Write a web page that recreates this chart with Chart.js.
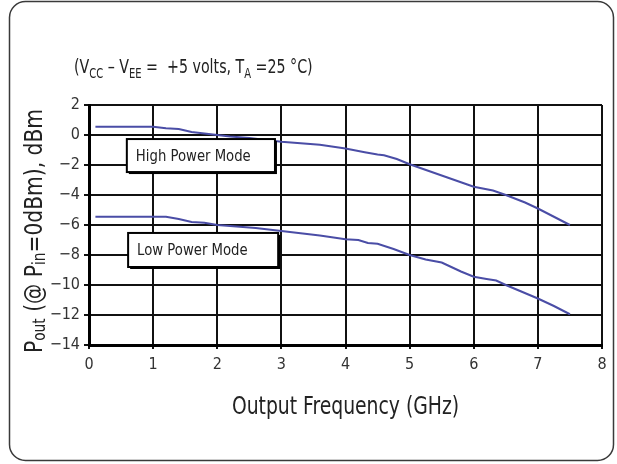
<!DOCTYPE html>
<html>
<head>
<meta charset="utf-8">
<script src="https://cdn.jsdelivr.net/npm/chart.js@4.4.0/dist/chart.umd.min.js"></script>
<style>
body{margin:0;background:#fff}
canvas{display:block}
</style>
</head>
<body>
<canvas id="line-chart" width="617" height="464"></canvas>
<script>
var fonte = "'Liberation Sans Narrow', 'DejaVu Sans Condensed', 'Roboto Condensed', sans-serif";
var cor = "#4a4da6";

// tick labels
var xTicks = [0, 1, 2, 3, 4, 5, 6, 7, 8];
var yTicks = [2, 0, -2, -4, -6, -8, -10, -12, -14];

// High Power Mode curve (GHz, dBm)
var highFreq = [0.1, 0.5, 1.0, 1.2, 1.4, 1.6, 1.8, 2.0, 2.2, 2.5, 2.8, 3.0, 3.3, 3.6, 4.0, 4.3, 4.5, 4.6, 4.8, 5.0, 5.3, 5.6, 5.9, 6.0, 6.3, 6.5, 6.8, 7.0, 7.25, 7.5];
var highPout = [0.55, 0.55, 0.55, 0.45, 0.4, 0.2, 0.1, 0.0, -0.1, -0.2, -0.35, -0.45, -0.55, -0.65, -0.9, -1.15, -1.3, -1.35, -1.6, -1.95, -2.4, -2.85, -3.3, -3.45, -3.7, -4.0, -4.5, -4.9, -5.45, -6.0];

// Low Power Mode curve
var lowFreq = [0.1, 0.5, 1.0, 1.2, 1.4, 1.6, 1.8, 2.0, 2.3, 2.6, 3.0, 3.3, 3.6, 4.0, 4.2, 4.35, 4.5, 4.75, 5.0, 5.25, 5.5, 5.65, 5.8, 6.0, 6.2, 6.35, 6.5, 6.75, 7.0, 7.25, 7.5];
var lowPout = [-5.45, -5.45, -5.45, -5.45, -5.6, -5.8, -5.85, -6.0, -6.1, -6.2, -6.4, -6.55, -6.7, -6.95, -7.0, -7.2, -7.25, -7.6, -8.0, -8.3, -8.5, -8.8, -9.1, -9.45, -9.6, -9.7, -10.0, -10.45, -10.9, -11.4, -11.95];

var modeLabels = ["High Power Mode", "Low Power Mode"];

function pontos(xs, ys){
    var out = [];
    for (var i = 0; i < xs.length; i++) out.push({x: xs[i], y: ys[i]});
    return out;
}

// text with subscripts, segs = [[text, 'sub'|''], ...]
function richWidth(ctx, segs, size, subSize){
    var w = 0;
    segs.forEach(function(s){
        ctx.font = (s[1] == 'sub' ? subSize : size) + "px " + fonte;
        w += ctx.measureText(s[0]).width;
    });
    return w;
}
function richText(ctx, segs, x, y, size, subSize, subDrop){
    segs.forEach(function(s){
        var sub = s[1] == 'sub';
        ctx.font = (sub ? subSize : size) + "px " + fonte;
        ctx.fillText(s[0], x, sub ? y + subDrop : y);
        x += ctx.measureText(s[0]).width;
    });
}

var decor = {
    id: 'decor',
    beforeDraw: function(chart){
        var ctx = chart.ctx;
        ctx.save();
        ctx.fillStyle = "#fff";
        ctx.fillRect(0, 0, chart.width, chart.height);
        ctx.strokeStyle = "#3a3a3a";
        ctx.lineWidth = 1.5;
        ctx.beginPath();
        ctx.roundRect(9.5, 1.5, 604, 459, 16);
        ctx.stroke();
        ctx.restore();
    },
    afterDatasetsDraw: function(chart){
        var ctx = chart.ctx, sx = chart.scales.x, sy = chart.scales.y;
        // label boxes, in data units
        var boxes = [[0.59, -0.27, 2.9, -2.47], [0.61, -6.53, 2.95, -8.8]];
        ctx.save();
        boxes.forEach(function(b, i){
            var x1 = sx.getPixelForValue(b[0]), y1 = sy.getPixelForValue(b[1]);
            var x2 = sx.getPixelForValue(b[2]), y2 = sy.getPixelForValue(b[3]);
            ctx.fillStyle = "#000";
            ctx.fillRect(x1 + 2, y1 + 2, x2 - x1, y2 - y1);
            ctx.fillStyle = "#fff";
            ctx.fillRect(x1, y1, x2 - x1, y2 - y1);
            ctx.strokeStyle = "#000";
            ctx.lineWidth = 2;
            ctx.strokeRect(x1, y1, x2 - x1, y2 - y1);
            ctx.fillStyle = "#222";
            ctx.font = "16px " + fonte;
            ctx.textBaseline = "middle";
            ctx.save();
            ctx.translate(x1 + 9, (y1 + y2) / 2 + 1);
            ctx.scale(0.92, 1);
            ctx.fillText(modeLabels[i], 0, 0);
            ctx.restore();
        });
        ctx.restore();
    },
    afterDraw: function(chart){
        var ctx = chart.ctx, a = chart.chartArea;
        ctx.save();
        ctx.fillStyle = "#222";
        ctx.textBaseline = "alphabetic";

        // conditions line
        ctx.save();
        ctx.translate(74, 73);
        ctx.scale(0.79, 1);
        richText(ctx, [["(V", ""], ["CC", "sub"], [" \u2013 V", ""], ["EE", "sub"], [" =  +5 volts, T", ""], ["A", "sub"], [" =25 \u00b0C)", ""]], 0, 0, 20, 14, 5);
        ctx.restore();

        // x title
        ctx.save();
        ctx.font = "24px " + fonte;
        ctx.textAlign = "center";
        ctx.translate((a.left + a.right) / 2, 414);
        ctx.scale(0.87, 1);
        ctx.fillText("Output Frequency (GHz)", 0, 0);
        ctx.restore();

        // y title
        ctx.textAlign = "left";
        var ySegs = [["P", ""], ["out", "sub"], [" (@ P", ""], ["in", "sub"], ["=0dBm), dBm", ""]];
        var w = richWidth(ctx, ySegs, 25, 17);
        ctx.translate(42, 231);
        ctx.rotate(-Math.PI / 2);
        ctx.scale(0.9, 1);
        richText(ctx, ySegs, -w / 2, 0, 25, 17, 3);
        ctx.restore();
    }
};

function chartPout(){
    var ctx = document.getElementById("line-chart");
    var chartGraph = new Chart(ctx, {
        type: 'line',
        data: {
            datasets: [{
                label: modeLabels[0],
                data: pontos(highFreq, highPout),
                borderColor: cor,
                borderWidth: 2,
                pointRadius: 0,
                tension: 0
            }, {
                label: modeLabels[1],
                data: pontos(lowFreq, lowPout),
                borderColor: cor,
                borderWidth: 2,
                pointRadius: 0,
                tension: 0
            }]
        },
        options: {
            responsive: false,
            animation: false,
            devicePixelRatio: 1,
            layout: { padding: { left: 0, top: 105, right: 15, bottom: 0 } },
            plugins: { legend: { display: false }, tooltip: { enabled: false } },
            scales: {
                x: {
                    type: 'linear',
                    min: 0, max: 8,
                    afterBuildTicks: function(s){ s.ticks = xTicks.map(function(v){ return {value: v}; }); },
                    afterFit: function(s){ s.height = 119; },
                    grid: { color: "#111", lineWidth: 2, tickLength: 4, tickColor: "#111" },
                    border: { color: "#000", width: 3 },
                    ticks: { color: "#333", padding: 6, font: { family: fonte, size: 16 } }
                },
                y: {
                    min: -14, max: 2,
                    afterBuildTicks: function(s){ s.ticks = yTicks.map(function(v){ return {value: v}; }); },
                    afterFit: function(s){ s.width = 89; },
                    grid: { color: "#111", lineWidth: 2, tickLength: 5, tickColor: "#111" },
                    border: { color: "#000", width: 3 },
                    ticks: {
                        color: "#333", padding: 4, font: { family: fonte, size: 16 },
                        callback: function(v){ return v < 0 ? "\u2212" + Math.abs(v) : v; }
                    }
                }
            }
        },
        plugins: [decor]
    });
}

chartPout();
</script>
</body>
</html>
